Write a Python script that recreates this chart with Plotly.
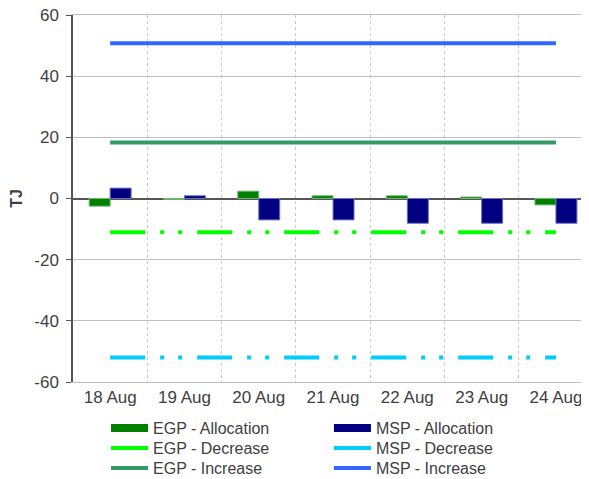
import plotly.graph_objects as go

categories = ["18 Aug", "19 Aug", "20 Aug", "21 Aug", "22 Aug", "23 Aug", "24 Aug"]
egp_allocation = [-2.5, -0.3, 2.4, 0.9, 0.9, 0.5, -2.1]
msp_allocation = [3.4, 0.9, -7.0, -7.0, -8.1, -8.1, -8.1]
egp_decrease = [-11, -11, -11, -11, -11, -11, -11]
msp_decrease = [-52, -52, -52, -52, -52, -52, -52]
egp_increase = [18.3, 18.3, 18.3, 18.3, 18.3, 18.3, 18.3]
msp_increase = [50.8, 50.8, 50.8, 50.8, 50.8, 50.8, 50.8]
y_tick_values = [-60, -40, -20, 0, 20, 40, 60]
y_tick_labels = ["-60", "-40", "-20", "0", "20", "40", "60"]

C_EGP = "#008000"
C_MSP = "#000080"
C_EGP_DEC = "#00ff00"
C_MSP_DEC = "#00ccff"
C_EGP_INC = "#339966"
C_MSP_INC = "#3366ff"
DASH = "35px,15px,4px,14px,4px,15px"
FONT = "Liberation Sans, Arial, sans-serif"
TXT = "#404040"
GRID = "#c0c0c0"

fig = go.Figure()
fig.add_trace(go.Bar(x=categories, y=egp_allocation, marker_color=C_EGP,
                     marker_line=dict(color="#6fb86f", width=1), showlegend=False, name="EGP - Allocation"))
fig.add_trace(go.Bar(x=categories, y=msp_allocation, marker_color=C_MSP,
                     marker_line=dict(color="#6f6fc0", width=1), showlegend=False, name="MSP - Allocation"))
fig.add_trace(go.Scatter(x=categories, y=egp_decrease, mode="lines", showlegend=False,
                         line=dict(color=C_EGP_DEC, width=4, dash=DASH)))
fig.add_trace(go.Scatter(x=categories, y=msp_decrease, mode="lines", showlegend=False,
                         line=dict(color=C_MSP_DEC, width=4, dash=DASH)))
fig.add_trace(go.Scatter(x=categories, y=egp_increase, mode="lines", showlegend=False,
                         line=dict(color=C_EGP_INC, width=4)))
fig.add_trace(go.Scatter(x=categories, y=msp_increase, mode="lines", showlegend=False,
                         line=dict(color=C_MSP_INC, width=4)))

# legend entries: one small legend per cell (row, column)
legend_items = [
    ("EGP - Allocation", C_EGP, 8, "legend"),
    ("MSP - Allocation", C_MSP, 8, "legend2"),
    ("EGP - Decrease", C_EGP_DEC, 4, "legend3"),
    ("MSP - Decrease", C_MSP_DEC, 4, "legend4"),
    ("EGP - Increase", C_EGP_INC, 4, "legend5"),
    ("MSP - Increase", C_MSP_INC, 4, "legend6"),
]
for name, color, w, lg in legend_items:
    fig.add_trace(go.Scatter(x=[None], y=[None], mode="lines", name=name, legend=lg,
                             line=dict(color=color, width=w)))

col_x = [0.064, 0.496]
row_y = [-0.1253, -0.1798, -0.2343]
legends = {}
for i, (_, _, _, lg) in enumerate(legend_items):
    legends[lg] = dict(x=col_x[i % 2], y=row_y[i // 2], xanchor="left", yanchor="middle",
                       orientation="v", font=dict(size=16, color=TXT), itemwidth=37,
                       bgcolor="rgba(0,0,0,0)")

fig.update_layout(
    width=581, height=471,
    margin=dict(l=65, r=0, t=7, b=97, autoexpand=False),
    plot_bgcolor="white", paper_bgcolor="white",
    barmode="group", bargap=0.435, bargroupgap=0,
    font=dict(family=FONT, size=16, color=TXT),
    **legends,
)
fig.update_xaxes(
    type="category", range=[-0.5, 6.445], tickson="boundaries",
    showgrid=True, gridcolor="#c8c8c8", griddash="dot", gridwidth=1,
    showline=True, linecolor=GRID, linewidth=1, mirror=True,
    ticks="", tickfont=dict(size=17, color=TXT),
)
fig.update_yaxes(
    range=[-60, 60], tickvals=y_tick_values, ticktext=y_tick_labels,
    showgrid=True, gridcolor=GRID, gridwidth=1,
    zeroline=True, zerolinecolor="#555555", zerolinewidth=1.5,
    showline=True, linecolor="#555555", linewidth=1.5,
    ticks="outside", ticklen=5, tickcolor="#555555", ticklabelstandoff=4,
    ticklabeloverflow="allow",
    tickfont=dict(size=17, color=TXT),
    title=dict(text="<b>TJ</b>", font=dict(size=16, color=TXT), standoff=22),
)

fig.write_html(
    "out.html",
    post_script="document.documentElement.style.overflow='hidden';"
                "document.body.style.overflow='hidden';",
)
